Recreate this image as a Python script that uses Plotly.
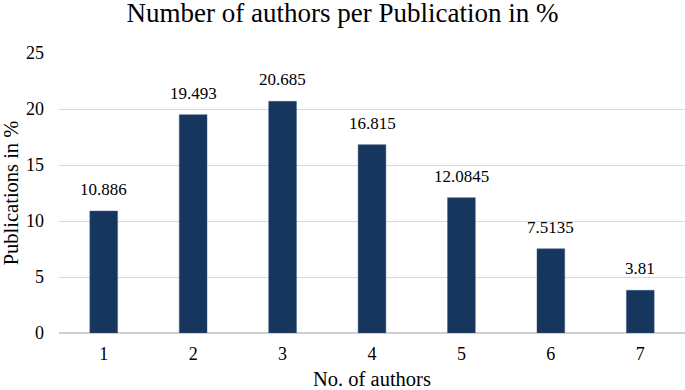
import plotly.graph_objects as go

categories = ["1", "2", "3", "4", "5", "6", "7"]
values = [10.886, 19.493, 20.685, 16.815, 12.0845, 7.5135, 3.81]
labels = ["10.886", "19.493", "20.685", "16.815", "12.0845", "7.5135", "3.81"]
y_ticks = [0, 5, 10, 15, 20, 25]

font_family = "Liberation Serif"

fig = go.Figure(go.Bar(
    x=categories, y=values,
    marker=dict(color="#17365d", line=dict(color="#3b5a80", width=0.5)),
))

for i, (v, t) in enumerate(zip(values, labels)):
    fig.add_annotation(x=i, y=v, xref="x", yref="y", text=t, showarrow=False,
                       yanchor="bottom", yshift=10,
                       font=dict(family=font_family, size=17, color="#000000"))

fig.update_layout(
    width=685, height=390,
    margin=dict(l=59, r=0, t=53, b=57, autoexpand=False),
    paper_bgcolor="white", plot_bgcolor="white",
    bargap=0.69,
    showlegend=False,
    title=dict(text="Number of authors per Publication in %", x=0.5, xanchor="center",
               y=0.968, yanchor="middle",
               font=dict(family=font_family, size=27, color="#000000")),
    font=dict(family=font_family, color="#000000"),
)
fig.update_xaxes(
    type="category", range=[-0.5, len(categories) - 0.5],
    showgrid=False, showline=False, ticks="", automargin=False,
    tickfont=dict(family=font_family, size=18, color="#000000"),
    ticklabelstandoff=8,
    title=dict(text="No. of authors", font=dict(family=font_family, size=20.5, color="#000000"), standoff=13),
)
fig.update_yaxes(
    range=[0, 25], tickvals=y_ticks, showgrid=True, gridcolor="#d9d9d9", gridwidth=1,
    zeroline=True, zerolinecolor="#d0d0d0", zerolinewidth=1.5, automargin=False,
    tickfont=dict(family=font_family, size=18, color="#000000"),
    ticklabelstandoff=14,
    title=dict(text="Publications in %", font=dict(family=font_family, size=20.5, color="#000000"), standoff=10),
)

fig.write_html("out.html",
               config={"displayModeBar": False},
               post_script="document.body.style.margin='0';document.body.style.overflow='hidden';")
